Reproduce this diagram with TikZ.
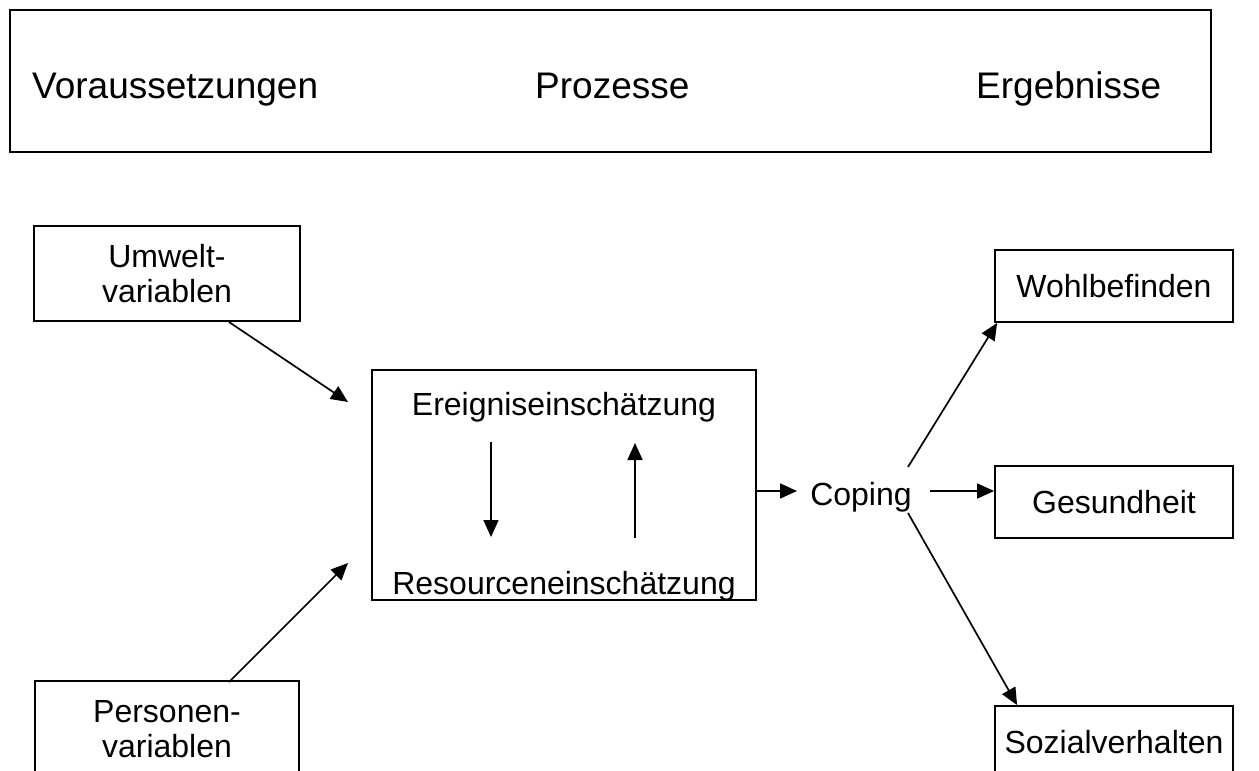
\documentclass[tikz,border=0pt]{standalone}
\usepackage{fontspec}
\setmainfont{Liberation Sans}
\usetikzlibrary{arrows.meta}
\begin{document}
\begin{tikzpicture}[x=1pt,y=-1pt,
  box/.style={draw, line width=1.8pt, inner sep=0pt, align=center, font=\fontsize{32}{35}\selectfont},
  lbl/.style={inner sep=0pt, anchor=base, font=\fontsize{32}{35}\selectfont},
  head/.style={inner sep=0pt, anchor=base west, font=\fontsize{37}{44}\selectfont},
  arr/.style={line width=1.7pt, -{Triangle[length=17pt,width=15pt]}}]
\clip (0,0) rectangle (1259,771);
\useasboundingbox (0,0) rectangle (1259,771);
% header
\node[box, minimum width=1201pt, minimum height=142pt] (hdr) at (610.5,81) {};
\node[head] (vor) at (32,98) {Voraussetzungen};
\node[head] (pro) at (535,98) {Prozesse};
\node[head] (erg) at (976,98) {Ergebnisse};
% left boxes
\node[box, minimum width=266pt, minimum height=95pt] (umw) at (167,273.5) {Umwelt-\\variablen};
\node[box, minimum width=264pt, minimum height=96pt] (pers) at (167,729) {Personen-\\variablen};
% process box
\node[box, minimum width=384pt, minimum height=230pt] (proc) at (564,485) {};
\node[lbl] (ere) at (564,415) {Ereigniseinschätzung};
\node[lbl] (res) at (564,594) {Resourceneinschätzung};
% coping
\node[lbl] (cop) at (861,505) {Coping};
% right boxes
\node[box, minimum width=238pt, minimum height=72pt] (wohl) at (1114,286) {Wohlbefinden};
\node[box, minimum width=238pt, minimum height=72pt] (ges) at (1114,502) {Gesundheit};
\node[box, minimum width=238pt, minimum height=72pt] (soz) at (1114,742) {Sozialverhalten};
% coordinates
\coordinate (umw-out) at (229,322);
\coordinate (umw-in) at (348,402);
\coordinate (pers-out) at (229,682);
\coordinate (pers-in) at (348,563);
\coordinate (dn-top) at (491,442);
\coordinate (dn-bot) at (491,537);
\coordinate (up-bot) at (635,538);
\coordinate (up-top) at (635,443);
\coordinate (cop-in) at (797,491);
\coordinate (cop-out) at (930,491);
\coordinate (cop-up) at (908,467);
\coordinate (cop-dn) at (908,513);
% connectors
\draw[arr] (umw-out) -- (umw-in);
\draw[arr] (pers-out) -- (pers-in);
\draw[arr] (dn-top) -- (dn-bot);
\draw[arr] (up-bot) -- (up-top);
\draw[arr] (proc.east |- cop-in) -- (cop-in);
\draw[arr] (cop-out) -- (ges.west |- cop-out);
\draw[arr] (cop-up) -- ([xshift=3pt]wohl.south west);
\draw[arr] (cop-dn) -- ([xshift=23pt]soz.north west);
\end{tikzpicture}
\end{document}
